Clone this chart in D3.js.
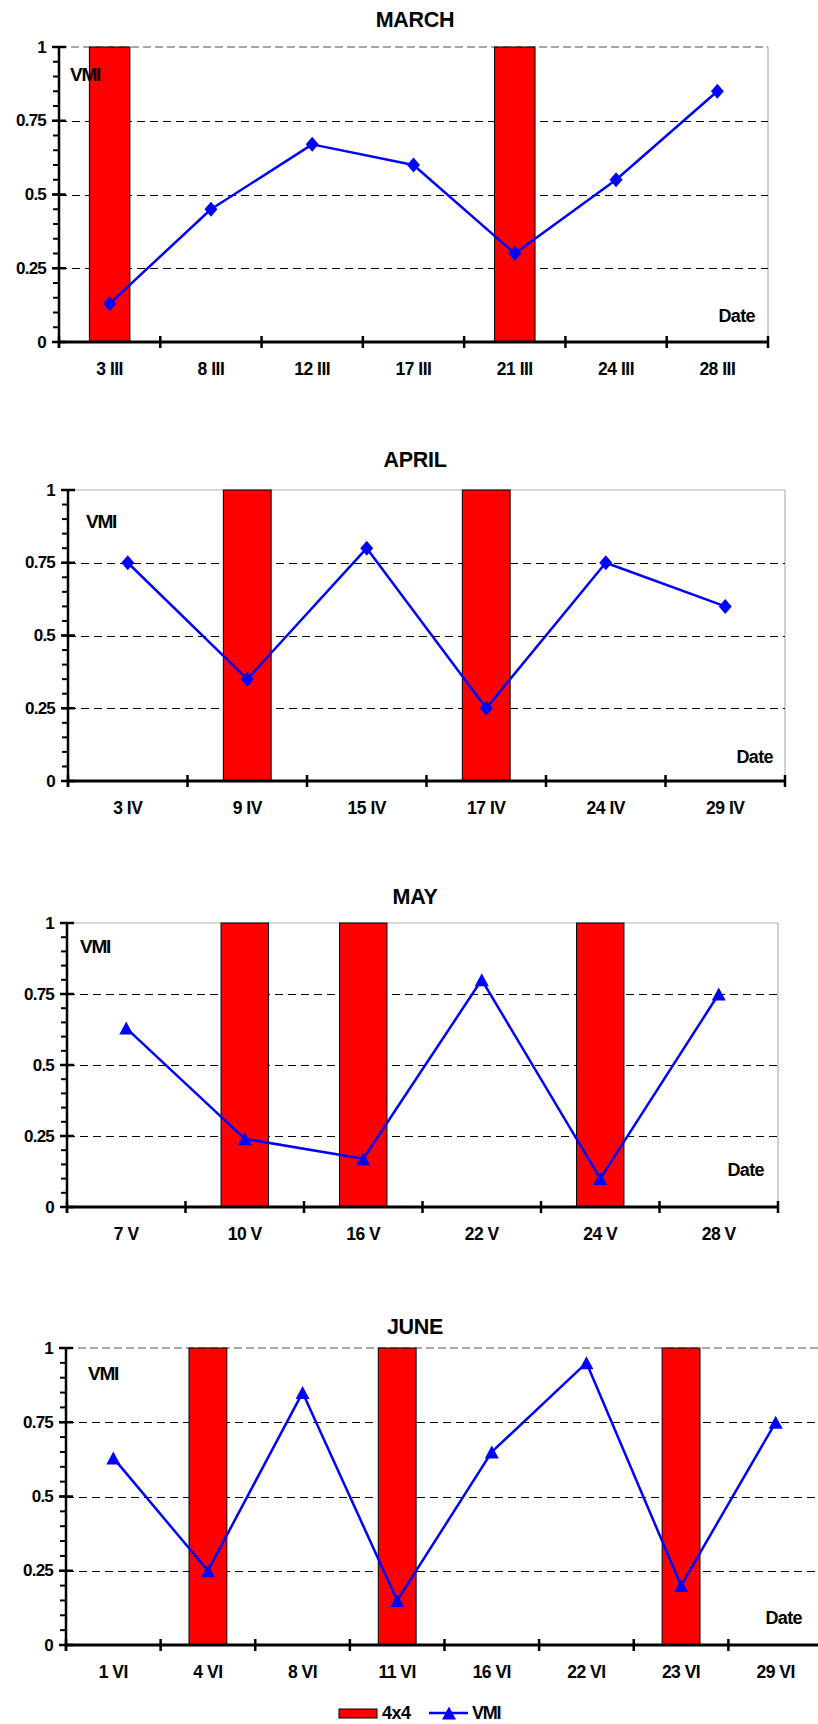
<!DOCTYPE html>
<html>
<head>
<meta charset="utf-8">
<script src="https://cdn.jsdelivr.net/npm/d3@7"></script>
<style>
  html, body { margin: 0; padding: 0; background: #fff; }
  svg text { font-family: "Liberation Sans", Arial, sans-serif; font-weight: bold; fill: #000; }
</style>
</head>
<body>
<svg id="chart" width="818" height="1724"></svg>
<script>
// ---- data ----
const marchDates = ["3 III", "8 III", "12 III", "17 III", "21 III", "24 III", "28 III"];
const marchVmi   = [0.13, 0.45, 0.67, 0.60, 0.30, 0.55, 0.85];
const march4x4   = [1, 0, 0, 0, 1, 0, 0];

const aprilDates = ["3 IV", "9 IV", "15 IV", "17 IV", "24 IV", "29 IV"];
const aprilVmi   = [0.75, 0.35, 0.80, 0.25, 0.75, 0.60];
const april4x4   = [0, 1, 0, 1, 0, 0];

const mayDates = ["7 V", "10 V", "16 V", "22 V", "24 V", "28 V"];
const mayVmi   = [0.63, 0.24, 0.17, 0.80, 0.10, 0.75];
const may4x4   = [0, 1, 1, 0, 1, 0];

const juneDates = ["1 VI", "4 VI", "8 VI", "11 VI", "16 VI", "22 VI", "23 VI", "29 VI"];
const juneVmi   = [0.63, 0.25, 0.85, 0.15, 0.65, 0.95, 0.20, 0.75];
const june4x4   = [0, 1, 0, 1, 0, 0, 1, 0];

const yTicks = [0, 0.25, 0.5, 0.75, 1];
const yTickLabels = ["0", "0.25", "0.5", "0.75", "1"];

// ---- layout of each panel ----
const panels = [
  { title: "MARCH", dates: marchDates, vmi: marchVmi, bars: march4x4, marker: "diamond",
    box: { l: 59, r: 768, t: 47, b: 342 }, titleY: 20, vmiPos: [11, 27], datePos: [13, 26], topDash: true },
  { title: "APRIL", dates: aprilDates, vmi: aprilVmi, bars: april4x4, marker: "diamond",
    box: { l: 68, r: 785, t: 490, b: 781 }, titleY: 460, vmiPos: [18, 31], datePos: [12, 24], topDash: false },
  { title: "MAY", dates: mayDates, vmi: mayVmi, bars: may4x4, marker: "triangle",
    box: { l: 67, r: 778, t: 923, b: 1207 }, titleY: 897, vmiPos: [13, 23], datePos: [14, 37], topDash: false },
  { title: "JUNE", dates: juneDates, vmi: juneVmi, bars: june4x4, marker: "triangle",
    box: { l: 66, r: 823, t: 1348, b: 1645 }, titleY: 1327, vmiPos: [22, 25], datePos: [16, 27], topDash: true }
];

const BLUE = "#0000ff";
const RED = "#ff0000";

function markerPath(kind) {
  if (kind === "diamond") {
    const w = 6.5, h = 7.5;
    return `M0,${-h}L${w},0L0,${h}L${-w},0Z`;
  }
  const w = 7, h = 6.5;
  return `M0,${-h}L${w},${h}L${-w},${h}Z`;
}

const svg = d3.select("#chart");

panels.forEach(p => {
  const g = svg.append("g");
  const { l, r, t, b } = p.box;

  const x = d3.scaleBand().domain(p.dates).range([l, r]).paddingInner(0).paddingOuter(0);
  const y = d3.scaleLinear().domain([0, 1]).range([b, t]);

  // title
  g.append("text")
    .attr("x", 415).attr("y", p.titleY)
    .attr("text-anchor", "middle").attr("dominant-baseline", "central")
    .attr("font-size", 21.5).attr("letter-spacing", "-0.3")
    .text(p.title);

  // plot area border (top and right)
  g.append("line")
    .attr("x1", l).attr("x2", r).attr("y1", y(1)).attr("y2", y(1))
    .attr("stroke", p.topDash ? "#8a8a8a" : "#b0b0b0")
    .attr("stroke-width", p.topDash ? 1.5 : 1)
    .attr("stroke-dasharray", p.topDash ? "8,4" : null);
  g.append("line")
    .attr("x1", r).attr("x2", r).attr("y1", y(1)).attr("y2", y(0))
    .attr("stroke", "#a0a0a0").attr("stroke-width", 1);

  // dashed gridlines
  g.selectAll(".grid")
    .data(yTicks.filter(v => v > 0 && v < 1))
    .enter().append("line")
    .attr("x1", l).attr("x2", r)
    .attr("y1", d => Math.round(y(d)) + 0.5).attr("y2", d => Math.round(y(d)) + 0.5)
    .attr("stroke", "#000").attr("stroke-width", 1.2)
    .attr("stroke-dasharray", "8,5");

  // 4x4 bars
  const bw = x.bandwidth() * 0.4;
  g.selectAll(".bar")
    .data(p.dates.map((d, i) => ({ d, v: p.bars[i] })).filter(e => e.v > 0))
    .enter().append("rect")
    .attr("x", e => x(e.d) + (x.bandwidth() - bw) / 2)
    .attr("y", e => y(e.v))
    .attr("width", bw)
    .attr("height", e => y(0) - y(e.v))
    .attr("fill", RED).attr("stroke", "#000").attr("stroke-width", 1);

  // VMI line
  const pts = p.dates.map((d, i) => [x(d) + x.bandwidth() / 2, y(p.vmi[i])]);
  g.append("path")
    .attr("d", d3.line()(pts))
    .attr("fill", "none").attr("stroke", BLUE).attr("stroke-width", 2.5)
    .attr("stroke-linejoin", "round");
  g.selectAll(".mk")
    .data(pts).enter().append("path")
    .attr("transform", d => `translate(${d[0]},${d[1]})`)
    .attr("d", markerPath(p.marker))
    .attr("fill", BLUE);

  // y axis: minor ticks every 0.05, major ticks crossing the axis
  const minor = d3.range(0, 21).map(i => i / 20);
  g.selectAll(".ymin")
    .data(minor).enter().append("line")
    .attr("x1", l - 6).attr("x2", l)
    .attr("y1", d => y(d)).attr("y2", d => y(d))
    .attr("stroke", "#000").attr("stroke-width", 2);
  g.selectAll(".ymaj")
    .data(yTicks).enter().append("line")
    .attr("x1", l - 7).attr("x2", l + 7)
    .attr("y1", d => y(d)).attr("y2", d => y(d))
    .attr("stroke", "#000").attr("stroke-width", 2.5);
  g.selectAll(".ylab")
    .data(yTicks).enter().append("text")
    .attr("x", l - 13).attr("y", d => y(d))
    .attr("text-anchor", "end").attr("dominant-baseline", "central")
    .attr("font-size", 17).attr("letter-spacing", "-0.8")
    .text((d, i) => yTickLabels[i]);
  g.append("line")
    .attr("x1", l).attr("x2", l).attr("y1", y(1) - 1).attr("y2", y(0) + 6)
    .attr("stroke", "#000").attr("stroke-width", 2.5);

  // x axis: ticks at band boundaries
  const edges = p.dates.map(d => x(d)).concat([x(p.dates[p.dates.length - 1]) + x.bandwidth()]);
  g.selectAll(".xt")
    .data(edges).enter().append("line")
    .attr("x1", d => d).attr("x2", d => d)
    .attr("y1", y(0) - 6).attr("y2", y(0) + 6)
    .attr("stroke", "#000").attr("stroke-width", 2.5);
  g.append("line")
    .attr("x1", l).attr("x2", r).attr("y1", y(0)).attr("y2", y(0))
    .attr("stroke", "#000").attr("stroke-width", 3);
  g.selectAll(".xlab")
    .data(p.dates).enter().append("text")
    .attr("x", d => x(d) + x.bandwidth() / 2).attr("y", y(0) + 27)
    .attr("text-anchor", "middle").attr("dominant-baseline", "central")
    .attr("font-size", 17.5).attr("letter-spacing", "-0.5")
    .text(d => d);

  // axis captions
  g.append("text")
    .attr("x", l + p.vmiPos[0]).attr("y", t + p.vmiPos[1])
    .attr("dominant-baseline", "central")
    .attr("font-size", 19).attr("letter-spacing", "-1.2")
    .text("VMI");
  g.append("text")
    .attr("x", Math.min(r, 818) - p.datePos[0]).attr("y", b - p.datePos[1])
    .attr("text-anchor", "end").attr("dominant-baseline", "central")
    .attr("font-size", 18).attr("letter-spacing", "-0.6")
    .text("Date");
});

// ---- legend ----
const lg = svg.append("g");
lg.append("rect")
  .attr("x", 339).attr("y", 1709).attr("width", 38).attr("height", 9)
  .attr("fill", RED).attr("stroke", "#000").attr("stroke-width", 1);
lg.append("text")
  .attr("x", 382).attr("y", 1713).attr("dominant-baseline", "central")
  .attr("font-size", 18).attr("letter-spacing", "-0.5").text("4x4");
lg.append("line")
  .attr("x1", 429).attr("x2", 468).attr("y1", 1713).attr("y2", 1713)
  .attr("stroke", BLUE).attr("stroke-width", 2.5);
lg.append("path")
  .attr("transform", "translate(449,1713)")
  .attr("d", markerPath("triangle")).attr("fill", BLUE);
lg.append("text")
  .attr("x", 472).attr("y", 1713).attr("dominant-baseline", "central")
  .attr("font-size", 18).attr("letter-spacing", "-1.2").text("VMI");
</script>
</body>
</html>
